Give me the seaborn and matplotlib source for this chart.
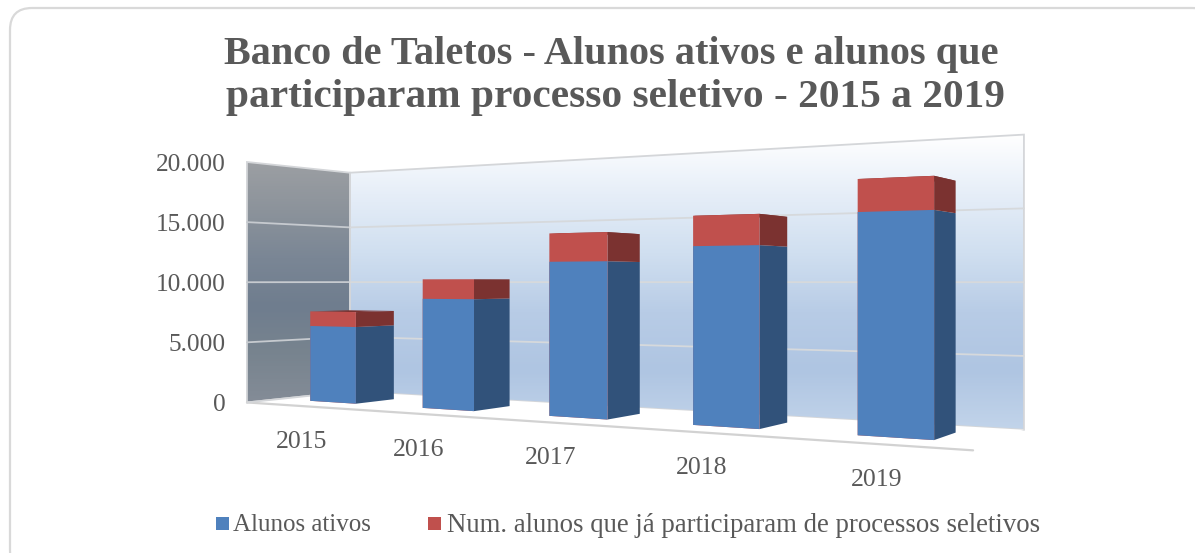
import numpy as np
import pandas as pd
import matplotlib
matplotlib.use('Agg')
import matplotlib.pyplot as plt
from matplotlib.patches import FancyBboxPatch, Polygon, Rectangle
from matplotlib.transforms import Transform
import seaborn as sns

anos = ['2015', '2016', '2017', '2018', '2019']
alunos_ativos = [6310, 8680, 11530, 12530, 14590]
alunos_total = [7540, 10230, 13650, 14660, 16750]
y_ticks = [0, 5000, 10000, 15000, 20000]
y_labels = ['0', '5.000', '10.000', '15.000', '20.000']

titulo_1 = 'Banco de Taletos - Alunos ativos e alunos que'
titulo_2 = 'participaram processo seletivo - 2015 a 2019'
nome_ativos = 'Alunos ativos'
nome_seletivos = 'Num. alunos que já participaram de processos seletivos'

COR_TEXTO = '#595959'
AZUL, AZUL_LADO = '#4f81bd', '#31527a'
VERMELHO, VERMELHO_LADO = '#c0504d', '#7b3230'
LARGURA = 0.42
D_FRENTE, D_FUNDO = 0.30, 0.68

# cantos da caixa 3D no desenho: (categoria, valor, profundidade) -> pixel
cantos = [(-0.5, 0, 0, 247, 403), (-0.5, 20000, 0, 247, 162),
          (-0.5, 0, 1, 350, 391), (-0.5, 20000, 1, 350, 172.7),
          (4.5, 0, 1, 1024, 430), (4.5, 20000, 1, 1024, 135),
          (4.5, 0, 0, 973, 450), (4.5, 20000, 0, 973, 114)]

A, b = [], []
for cx, cv, cd, u, v in cantos:
    cv = cv / 20000
    A.append([cx, cv, cd, 1, 0, 0, 0, 0, -u * cx, -u * cv, -u * cd])
    b.append(u)
    A.append([0, 0, 0, 0, cx, cv, cd, 1, -v * cx, -v * cv, -v * cd])
    b.append(v)
P = np.append(np.linalg.lstsq(np.array(A), np.array(b), rcond=None)[0], 1).reshape(3, 4)


def projeta(x, valor, d):
    x, valor, d = np.broadcast_arrays(np.asarray(x, float), np.asarray(valor, float) / 20000, np.asarray(d, float))
    pts = np.stack([x, valor, d, np.ones_like(x)], axis=-1) @ P.T
    return pts[..., 0] / pts[..., 2], pts[..., 1] / pts[..., 2]


class Perspectiva(Transform):
    # leva (categoria, valor) de um plano de profundidade d para os pixels do desenho
    input_dims = 2
    output_dims = 2
    is_separable = False
    has_inverse = False

    def __init__(self, d):
        super().__init__()
        self.d = d

    def transform_non_affine(self, values):
        values = np.asarray(values)
        return np.column_stack(projeta(values[:, 0], values[:, 1], self.d))


sns.set_theme(style='white')
plt.rcParams['font.family'] = ['Liberation Serif', 'DejaVu Serif']

fig = plt.figure(figsize=(11.95, 5.53), dpi=100)
ax = fig.add_axes([0, 0, 1, 1])

# barras empilhadas: total por tras, ativos na frente
df = pd.DataFrame({'ano': anos, 'ativos': alunos_ativos, 'total': alunos_total})
sns.barplot(data=df, x='ano', y='total', color=VERMELHO, saturation=1, width=LARGURA, errorbar=None, ax=ax)
sns.barplot(data=df, x='ano', y='ativos', color=AZUL, saturation=1, width=LARGURA, errorbar=None, ax=ax)
for barra in ax.patches:
    barra.set_transform(Perspectiva(D_FRENTE) + ax.transData)
    barra.set_linewidth(0)
    barra.set_zorder(5)

ax.set_autoscale_on(False)
ax.set_xlim(0, 1195)
ax.set_ylim(553, 0)
ax.axis('off')

# moldura arredondada, sai pela direita e por baixo
ax.add_patch(FancyBboxPatch((32, 30), 1160, 520, boxstyle='round,pad=22', fc='white', ec='#d9d9d9', lw=1.6, zorder=0))

# paredes com degrade
grad_fundo = sns.blend_palette(['#ffffff', '#e6eef8', '#d0dff0', '#b8cce6', '#afc5e2', '#c2d4ea'], as_cmap=True)
grad_lado = sns.blend_palette(['#9c9fa3', '#8c939b', '#7a8695', '#6f7d8e', '#78848f', '#848c97'], as_cmap=True)
gradiente = np.linspace(0, 1, 256).reshape(-1, 1)


def parede(x0, d0, x1, d1, cmap, topo, base):
    us, vs = [], []
    for x, d, valor in [(x0, d0, 0), (x1, d1, 0), (x1, d1, 20000), (x0, d0, 20000)]:
        u, v = projeta(x, valor, d)
        us.append(float(u))
        vs.append(float(v))
    im = ax.imshow(gradiente, cmap=cmap, aspect='auto', extent=(min(us), max(us), base, topo), zorder=1)
    im.set_clip_path(Polygon(np.column_stack([us, vs]), transform=ax.transData))
    ax.plot(us + us[:1], vs + vs[:1], color='#d4d6d9', lw=1.3, zorder=2, solid_joinstyle='miter')


parede(-0.5, 1, 4.5, 1, grad_fundo, 135, 430)
parede(-0.5, 0, -0.5, 1, grad_lado, 162, 403)
ax.set_xlim(0, 1195)
ax.set_ylim(553, 0)

# chao
us, vs = projeta([-0.5, 4.5, 4.5, -0.5], 0, [0, 0, 1, 1])
ax.fill(us, vs, color='white', lw=0, zorder=2)
ax.plot(*projeta([-0.5, 4.5], 0, 0), color='#d2d2d2', lw=1.6, zorder=3)
ax.plot(*projeta([-0.5, -0.5], 0, [0, 1]), color='#d4d6d9', lw=1.3, zorder=3)

# grades
for t in y_ticks[1:-1]:
    ax.plot(*projeta([-0.5, -0.5], t, [0, 1]), color='#c6cacf', lw=1.3, zorder=3)
    ax.plot(*projeta([-0.5, 4.5], t, 1), color='#d6d9dc', lw=1.3, zorder=3)

# faces laterais e topo das barras
for i in range(len(anos)):
    dir_ = i + LARGURA / 2
    esq = i - LARGURA / 2
    for base, topo, cor in [(0, alunos_ativos[i], AZUL_LADO), (alunos_ativos[i], alunos_total[i], VERMELHO_LADO)]:
        ax.fill(*projeta(dir_, [base, base, topo, topo], [D_FRENTE, D_FUNDO, D_FUNDO, D_FRENTE]), color=cor, lw=0, zorder=4)
    ax.fill(*projeta([esq, dir_, dir_, esq], alunos_total[i], [D_FRENTE, D_FRENTE, D_FUNDO, D_FUNDO]), color=VERMELHO_LADO, lw=0, zorder=4)

# textos
ax.text(611, 64, titulo_1, ha='center', va='baseline', fontsize=29, fontweight='bold', color=COR_TEXTO, zorder=6)
ax.text(615, 107, titulo_2, ha='center', va='baseline', fontsize=29.8, fontweight='bold', color=COR_TEXTO, zorder=6)

for t, rotulo in zip(y_ticks, y_labels):
    _, v = projeta(-0.5, t, 0)
    ax.text(226, v + 3, rotulo, ha='right', va='center', fontsize=18.3, color=COR_TEXTO, zorder=6)

for i, ano in enumerate(anos):
    u, v = projeta(i, 0, 0)
    ax.text(u + 1, v + 36, ano, ha='center', va='center', fontsize=18.5, color=COR_TEXTO, zorder=6)

# legenda
ax.add_patch(Rectangle((216, 517), 13, 13, fc=AZUL, lw=0, zorder=6))
ax.text(233, 525, nome_ativos, ha='left', va='center', fontsize=18, color=COR_TEXTO, zorder=6)
ax.add_patch(Rectangle((428, 517), 13, 13, fc=VERMELHO, lw=0, zorder=6))
ax.text(447, 525, nome_seletivos, ha='left', va='center', fontsize=19.3, color=COR_TEXTO, zorder=6)

fig.savefig('out.png', dpi=100)
